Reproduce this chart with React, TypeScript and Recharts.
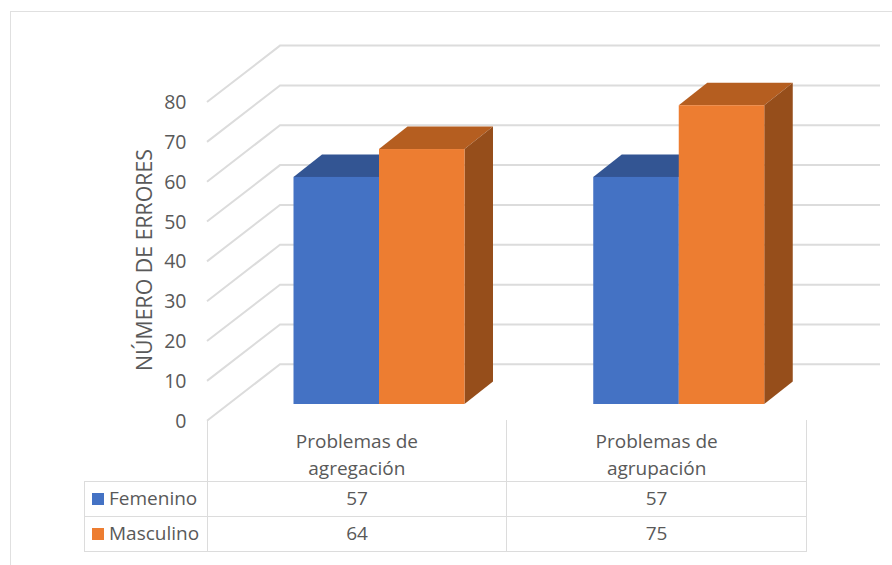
import { BarChart, Bar, XAxis, YAxis, CartesianGrid } from 'recharts';

const categories = [['Problemas de', 'agregación'], ['Problemas de', 'agrupación']];
const femenino = [57, 57];
const masculino = [64, 75];
const yTicks = [0, 10, 20, 30, 40, 50, 60, 70, 80];

const chartData = categories.map((c, i) => ({
  name: c.join(' '),
  femenino: femenino[i],
  masculino: masculino[i],
}));

const font = '"Open Sans", sans-serif';
const textColor = '#595959';
const lineColor = '#dcdcdc';

// how far the wall sits behind the bars, and the front edge in front of them
const wallDx = 50.5;
const wallDy = -39.7;
const frontDx = -22.5;
const frontDy = 16.7;
const wallRight = 880;
const depthX = 28.5;
const depthY = -22.5;

const WallLine = (props: any) => {
  const y = props.y1;
  const x0 = props.x1 + frontDx;
  const x1 = props.x1 + wallDx;
  return (
    <polyline
      points={`${x0},${y + frontDy} ${x1},${y + wallDy} ${wallRight},${y + wallDy}`}
      fill="none"
      stroke={lineColor}
      strokeWidth={2}
    />
  );
};

const YTick = (props: any) => (
  <text x={186.5} y={props.y + frontDy + 7} textAnchor="end" fontFamily={font} fontSize={19.5} fill={textColor}>
    {props.payload.value}
  </text>
);

const XTick = (props: any) => {
  const lines = categories[props.index];
  return (
    <text textAnchor="middle" fontFamily={font} fontSize={19} fill={textColor}>
      {lines.map((l, i) => (
        <tspan key={l} x={props.x - 22.5} y={448 + i * 27}>
          {l}
        </tspan>
      ))}
    </text>
  );
};

const Box = (props: any) => {
  const { x, y, width, height, front, top, side } = props;
  const r = x + width;
  const b = y + height;
  return (
    <g>
      <polygon points={`${x},${y} ${x + depthX},${y + depthY} ${r + depthX},${y + depthY} ${r},${y}`} fill={top} />
      <polygon points={`${r},${y} ${r + depthX},${y + depthY} ${r + depthX},${b + depthY} ${r},${b}`} fill={side} />
      <rect x={x} y={y} width={width} height={height} fill={front} />
    </g>
  );
};

const rows = [
  { label: 'Femenino', color: '#4472c4', values: femenino },
  { label: 'Masculino', color: '#ed7d31', values: masculino },
];

const cell: React.CSSProperties = {
  border: `1.5px solid ${lineColor}`,
  padding: '0 0 2px 0',
  textAlign: 'center',
  fontFamily: font,
  fontSize: 19,
  color: textColor,
};

const App = () => {
  return (
    <div style={{ position: 'absolute', left: 0, top: 0, width: 892, height: 565, overflow: 'hidden', background: '#fff' }}>
      <div style={{ position: 'absolute', left: 10, top: 10.5, width: 900, height: 600, border: `1.5px solid #e0e0e0` }} />
      <table
        style={{
          position: 'absolute',
          left: 84,
          top: 420,
          width: 722,
          tableLayout: 'fixed',
          borderCollapse: 'collapse',
        }}
      >
        <colgroup>
          <col style={{ width: 123 }} />
          <col style={{ width: 299 }} />
          <col style={{ width: 300 }} />
        </colgroup>
        <tbody>
          <tr style={{ height: 61 }}>
            <td style={{ ...cell, border: 'none', borderBottom: cell.border }} />
            <td style={{ ...cell, borderTop: 'none' }} />
            <td style={{ ...cell, borderTop: 'none' }} />
          </tr>
          {rows.map((row) => (
            <tr key={row.label} style={{ height: 35 }}>
              <td style={{ ...cell, textAlign: 'left', whiteSpace: 'nowrap' }}>
                <span
                  style={{
                    display: 'inline-block',
                    width: 12,
                    height: 12,
                    marginLeft: 7,
                    marginRight: 5,
                    background: row.color,
                  }}
                />
                {row.label}
              </td>
              {row.values.map((v, i) => (
                <td key={i} style={cell}>
                  {v}
                </td>
              ))}
            </tr>
          ))}
        </tbody>
      </table>
      <div style={{ position: 'absolute', left: 0, top: 0 }}>
        <BarChart
          width={892}
          height={565}
          data={chartData}
          barSize={85.5}
          barGap={0}
          barCategoryGap={64}
          margin={{ top: 85.3, right: 63, bottom: 0, left: 0 }}
        >
          <CartesianGrid vertical={false} horizontal={(p: any) => <WallLine key={p.key} {...p} />} />
          <XAxis dataKey="name" height={161} axisLine={false} tickLine={false} interval={0} tick={(p: any) => <XTick {...p} />} />
          <YAxis
            width={229.5}
            domain={[0, 80]}
            ticks={yTicks}
            axisLine={false}
            tickLine={false}
            interval={0}
            tick={(p: any) => <YTick {...p} />}
          />
          <Bar
            dataKey="femenino"
            isAnimationActive={false}
            shape={(p: any) => <Box {...p} front="#4472c4" top="#335593" side="#2f5597" />}
          />
          <Bar
            dataKey="masculino"
            isAnimationActive={false}
            shape={(p: any) => <Box {...p} front="#ed7d31" top="#b55e20" side="#964e1b" />}
          />
          <text
            transform="translate(151.5,260) rotate(-90)"
            textAnchor="middle"
            fontFamily={font}
            fontSize={21.3}
            fill={textColor}
          >
            NÚMERO DE ERRORES
          </text>
        </BarChart>
      </div>
    </div>
  );
};

export default App;
